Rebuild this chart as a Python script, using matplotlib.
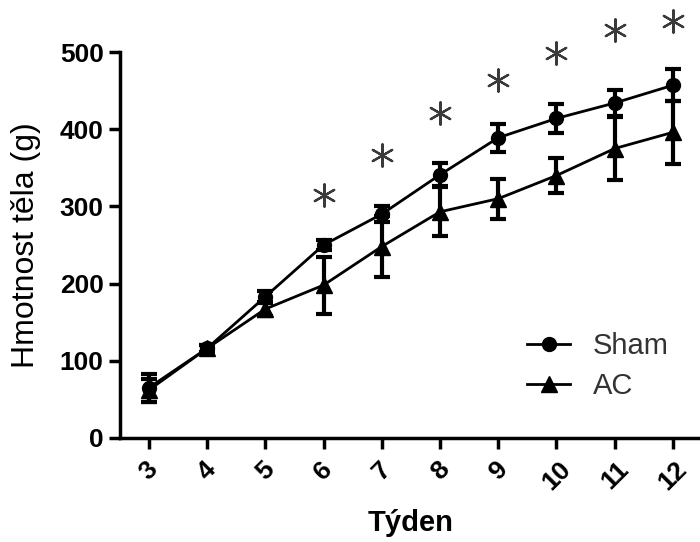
import matplotlib
matplotlib.use("Agg")
import matplotlib.pyplot as plt

plt.rcParams['font.family'] = ['Liberation Sans', 'DejaVu Sans']

# data
weeks = [3, 4, 5, 6, 7, 8, 9, 10, 11, 12]
sham_mean = [65, 116, 183, 250, 290, 341, 389, 414, 434, 457]
sham_err = [18, 5, 8, 6, 10, 15, 18, 19, 17, 21]
ac_mean = [62, 116, 167, 198, 248, 293, 310, 340, 375, 396]
ac_err = [15, 5, 9, 37, 40, 32, 26, 23, 41, 41]
star_weeks = [6, 7, 8, 9, 10, 11, 12]
star_y = [315, 367, 421, 464, 499, 528, 540]

fig = plt.figure(figsize=(7, 5.42), dpi=100)
ax = fig.add_axes([0.171, 0.192, 0.832, 0.712])

ax.errorbar(weeks, sham_mean, yerr=sham_err, color='black', marker='o',
            markersize=10, lw=2, elinewidth=3, capsize=6, capthick=3,
            label='Sham')
ax.errorbar(weeks, ac_mean, yerr=ac_err, color='black', marker='^',
            markersize=11, lw=2, elinewidth=3, capsize=6, capthick=3,
            label='AC')

# significance asterisks
ax.scatter(star_weeks, star_y, marker=(6, 2, 0), s=260, color='#3a3a3a',
           linewidths=1.6, clip_on=False, zorder=5)

ax.set_xlim(2.5, 12.5)
ax.set_ylim(0, 500)
ax.set_xticks(weeks)
ax.set_yticks([0, 100, 200, 300, 400, 500])
ax.set_xticklabels([str(w) for w in weeks], rotation=45, ha='center')

for s in ['top', 'right']:
    ax.spines[s].set_visible(False)
for s in ['left', 'bottom']:
    ax.spines[s].set_linewidth(2.5)
ax.tick_params(width=2.5, length=8, labelsize=19)
ax.tick_params(axis='x', pad=6)
for lab in ax.get_yticklabels() + ax.get_xticklabels():
    lab.set_fontweight('bold')

ax.set_xlabel('Týden', fontsize=21, fontweight='bold')
ax.xaxis.set_label_coords(0.5, -0.185)
ax.set_ylabel('Hmotnost těla (g)', fontsize=23)
ax.yaxis.set_label_coords(-0.135, 0.5)

handles, labels = ax.get_legend_handles_labels()
handles = [h[0] for h in handles]
leg = ax.legend(handles, labels, loc='upper left', frameon=False, fontsize=21,
                handlelength=1.45, handletextpad=0.8, labelspacing=0.4,
                bbox_to_anchor=(0.655, 0.342))
for t in leg.get_texts():
    t.set_color('#333333')

fig.savefig('out.png', dpi=100)
